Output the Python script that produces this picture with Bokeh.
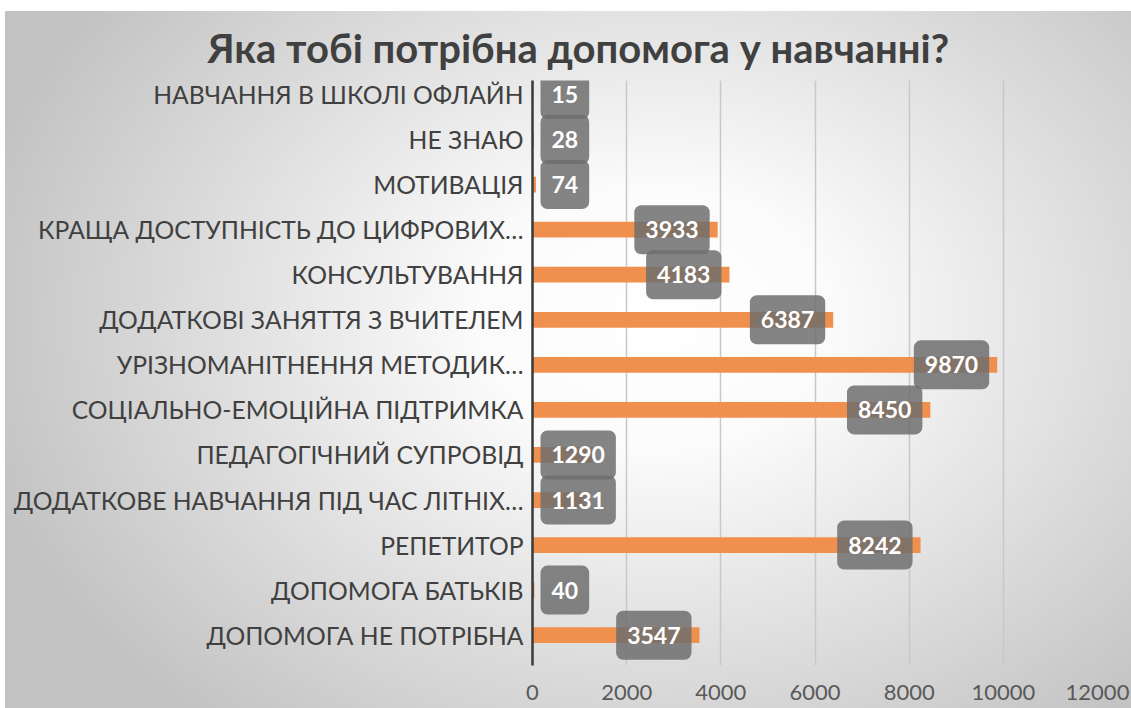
from bokeh.plotting import figure
from bokeh.models import ColumnDataSource, FixedTicker, Title, Range1d
from bokeh.core.properties import value
from bokeh.embed import file_html
from bokeh.resources import INLINE

# ---- data (top to bottom, as shown) ----
categories = [
    "НАВЧАННЯ В ШКОЛІ ОФЛАЙН",
    "НЕ ЗНАЮ",
    "МОТИВАЦІЯ",
    "КРАЩА ДОСТУПНІСТЬ ДО ЦИФРОВИХ…",
    "КОНСУЛЬТУВАННЯ",
    "ДОДАТКОВІ ЗАНЯТТЯ З ВЧИТЕЛЕМ",
    "УРІЗНОМАНІТНЕННЯ МЕТОДИК…",
    "СОЦІАЛЬНО-ЕМОЦІЙНА ПІДТРИМКА",
    "ПЕДАГОГІЧНИЙ СУПРОВІД",
    "ДОДАТКОВЕ НАВЧАННЯ ПІД ЧАС ЛІТНІХ…",
    "РЕПЕТИТОР",
    "ДОПОМОГА БАТЬКІВ",
    "ДОПОМОГА НЕ ПОТРІБНА",
]
values = [15, 28, 74, 3933, 4183, 6387, 9870, 8450, 1290, 1131, 8242, 40, 3547]
x_ticks = [0, 2000, 4000, 6000, 8000, 10000, 12000]
title_text = "Яка тобі потрібна допомога у навчанні?"

FONT = "Lato"
ORANGE = "#F0904E"

n = len(categories)
ypos = [n - 1 - i for i in range(n)]
labels = [str(v) for v in values]

inside = [i for i, v in enumerate(values) if v >= 2000]
outside = [i for i, v in enumerate(values) if v < 2000]

src = ColumnDataSource(dict(y=ypos, value=values, cat=categories, label=labels))
src_in = ColumnDataSource(dict(y=[ypos[i] for i in inside], value=[values[i] for i in inside],
                               label=[labels[i] for i in inside]))
src_out = ColumnDataSource(dict(y=[ypos[i] for i in outside], value=[0] * len(outside),
                                label=[labels[i] for i in outside]))

p = figure(width=1131, height=708, output_backend="svg", toolbar_location=None,
           x_range=Range1d(0, 12000), y_range=Range1d(-0.673, n - 1 + 0.311),
           min_border_left=532, min_border_right=34, min_border_top=80, min_border_bottom=43)

p.background_fill_alpha = 0
p.border_fill_alpha = 0
p.outline_line_color = None
p.styles = {
    "background": (
        "linear-gradient(#ffffff,#ffffff) 0 0/100% 11px no-repeat,"
        "linear-gradient(#ffffff,#ffffff) 0 0/5px 100% no-repeat,"
        "radial-gradient(ellipse 62% 75% at 58% 45%, #ffffff 0%, #fbfbfb 25%, #c2c2c2 100%)"
    )
}

p.add_layout(Title(text=title_text, align="left", offset=-325, standoff=18,
                   text_font=FONT, text_font_size="40px", text_font_style="bold",
                   text_color="#404040"), "above")

p.hbar(y="y", left=0, right="value", height=0.35, source=src,
       fill_color=ORANGE, line_color=None)

common = dict(text="label", text_color="white", text_font=value(FONT),
              text_font_size="23px", text_font_style="bold", text_baseline="middle",
              background_fill_color="#6e6e6e", background_fill_alpha=0.85,
              border_radius=7, padding=dict(left=11, right=11, top=16, bottom=16))
p.text(x="value", y="y", source=src_in, text_align="right", x_offset=-8, **common)
p.text(x="value", y="y", source=src_out, text_align="left", x_offset=8, **common)

# axes
p.xaxis.ticker = FixedTicker(ticks=x_ticks)
p.xaxis.axis_line_color = None
p.xaxis.major_tick_line_color = None
p.xaxis.minor_tick_line_color = None
p.xaxis.major_tick_out = 0
p.xaxis.major_label_text_font = FONT
p.xaxis.major_label_text_font_size = "22px"
p.xaxis.major_label_text_color = "#595959"
p.xaxis.major_label_standoff = 19

p.yaxis.ticker = FixedTicker(ticks=ypos)
p.yaxis.major_label_overrides = {y: c for y, c in zip(ypos, categories)}
p.yaxis.axis_line_color = "#3a3a3a"
p.yaxis.axis_line_width = 2.5
p.yaxis.major_tick_line_color = None
p.yaxis.minor_tick_line_color = None
p.yaxis.major_tick_out = 0
p.yaxis.major_label_text_font = FONT
p.yaxis.major_label_text_font_size = "24.7px"
p.yaxis.major_label_text_color = "#404040"
p.yaxis.major_label_standoff = 9

p.xgrid.ticker = FixedTicker(ticks=x_ticks)
p.xgrid.grid_line_color = "#c8c8c8"
p.xgrid.grid_line_width = 1.5
p.ygrid.grid_line_color = None

open("out.html", "w").write(file_html(p, INLINE))
